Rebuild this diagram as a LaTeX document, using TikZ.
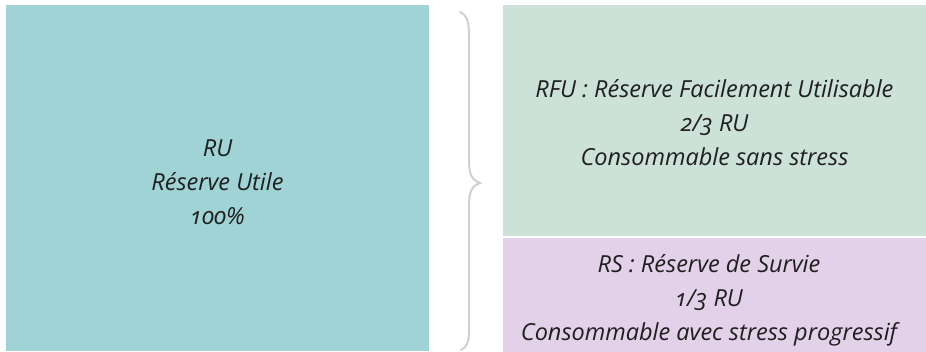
\documentclass[tikz,border=0pt]{standalone}
\usepackage{fontspec}
\setmainfont{Open Sans}[Numbers=OldStyle]
\definecolor{ruc}{HTML}{9FD3D5}
\definecolor{rfuc}{HTML}{CCE1D7}
\definecolor{rsc}{HTML}{E3D1EA}
\definecolor{bracec}{HTML}{D0D0D0}
\begin{document}
\begin{tikzpicture}[x=1pt,y=-1pt,
  boxtxt/.style={font=\itshape\fontsize{23.5}{34}\selectfont,align=center,text=black!88}]
\useasboundingbox (0,0) rectangle (926,352);
\fill[ruc] (6,5) rectangle (429,351);
\fill[rfuc] (503,5) rectangle (926,236);
\fill[rsc] (503,238) rectangle (926,352);
\node[boxtxt] (ru) at (217.5,182) {RU\\Réserve Utile\\100\%};
\node[boxtxt] (rfu) at (714.5,123) {RFU : Réserve Facilement Utilisable\\2/3 RU\\Consommable sans stress};
\node[boxtxt] (rs) at (709,300) {RS : Réserve de Survie\\1/3 RU\\Consommable avec stress progressif};
\draw[bracec,line width=2pt,line cap=round]
  (460,12) .. controls (467,15) and (469,22) .. (469,35)
  -- (469,160) .. controls (469,175) and (472,180) .. (480,183)
  .. controls (472,186) and (469,191) .. (469,206)
  -- (469,330) .. controls (469,342) and (467,347) .. (461,350);
\end{tikzpicture}
\end{document}
